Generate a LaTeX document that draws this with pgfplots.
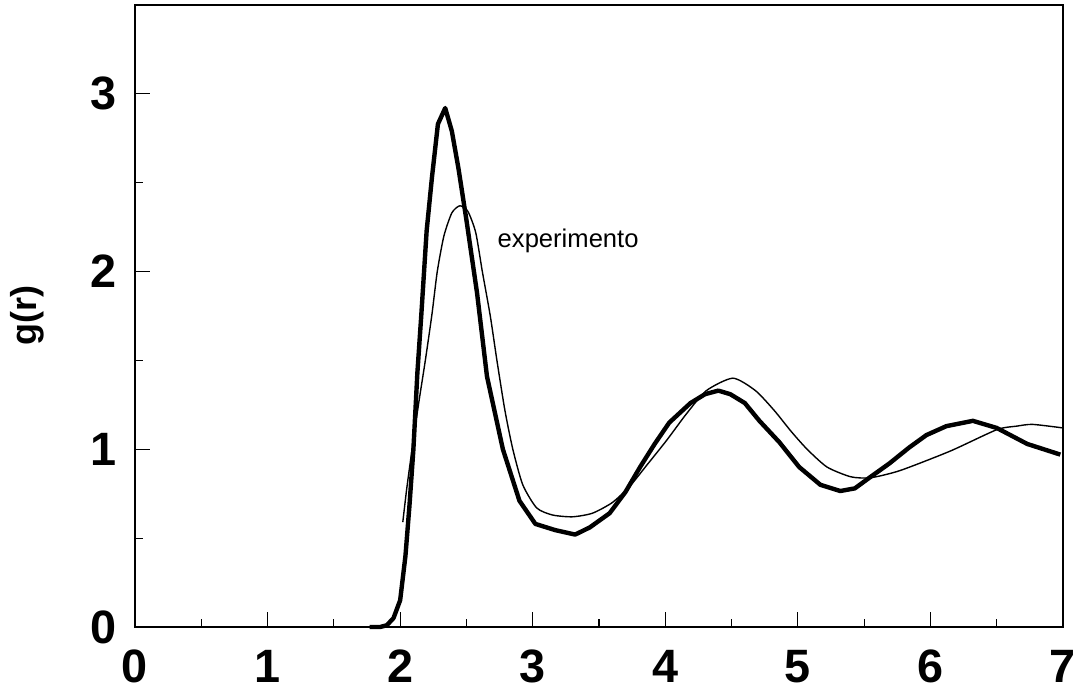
\documentclass[border=0pt]{standalone}
\usepackage{fontspec}
\setmainfont{Liberation Sans}
\usepackage{pgfplots}
\pgfplotsset{compat=1.18}
\usetikzlibrary{calc}

\pgfplotstableread{
r g
1.77 0.00
1.85 0.00
1.90 0.01
1.95 0.05
2.00 0.15
2.04 0.40
2.07 0.68
2.10 1.00
2.13 1.43
2.16 1.76
2.20 2.23
2.24 2.53
2.285 2.83
2.34 2.92
2.39 2.79
2.44 2.58
2.50 2.29
2.58 1.88
2.655 1.41
2.775 1.00
2.90 0.71
3.02 0.58
3.17 0.545
3.32 0.52
3.43 0.56
3.58 0.64
3.70 0.76
3.81 0.90
3.92 1.03
4.03 1.15
4.19 1.26
4.30 1.31
4.40 1.33
4.49 1.31
4.60 1.26
4.71 1.16
4.86 1.04
5.01 0.90
5.17 0.80
5.32 0.765
5.43 0.78
5.54 0.84
5.69 0.92
5.84 1.01
5.97 1.08
6.12 1.13
6.32 1.16
6.50 1.12
6.73 1.03
6.98 0.97
}\simdata

\pgfplotstableread{
r g
2.02 0.59
2.05 0.78
2.09 1.00
2.14 1.26
2.19 1.50
2.24 1.76
2.28 2.00
2.33 2.20
2.39 2.33
2.45 2.37
2.51 2.34
2.57 2.22
2.62 2.00
2.68 1.75
2.73 1.50
2.79 1.22
2.85 1.00
2.925 0.80
3.03 0.67
3.15 0.63
3.30 0.62
3.45 0.64
3.60 0.70
3.73 0.79
3.86 0.91
4.01 1.05
4.16 1.20
4.31 1.33
4.51 1.40
4.68 1.33
4.82 1.22
4.95 1.10
5.07 1.00
5.22 0.90
5.40 0.845
5.55 0.84
5.77 0.88
6.15 0.99
6.50 1.11
6.65 1.13
6.77 1.14
7.00 1.12
}\expdata

\begin{document}
\begin{tikzpicture}
\begin{axis}[
    scale only axis,
    width=232pt, height=155.5pt,
    xmin=0, xmax=7, ymin=0, ymax=3.5,
    xtick={0,1,...,7},
    ytick={0,1,2,3},
    minor x tick num=1,
    minor y tick num=1,
    tick align=inside,
    xtick pos=bottom, ytick pos=left,
    major tick length=3.75pt,
    minor tick length=2pt,
    every tick/.style={black, line width=0.3pt},
    axis line style={line width=0.6pt},
    tick label style={font=\fontsize{11.7}{14}\selectfont\bfseries},
    xticklabel style={text height=0.72em, text depth=0pt, inner sep=0pt},
    xticklabel shift=6.5pt,
    yticklabel style={inner sep=0pt},
    yticklabel shift=4.5pt,
    /pgf/number format/assume math mode=true,
    ylabel={g(r)},
    ylabel style={at={(axis description cs:-0.1164,0.5)}, anchor=center,
        font=\fontsize{9}{11}\selectfont\bfseries},
    clip=false,
]
\addplot[black, line width=1.1pt, line join=round] table[x=r, y=g] {\simdata};
\addplot[black, line width=0.35pt, smooth, tension=0.4] table[x=r, y=g] {\expdata};
\node[anchor=west, font=\fontsize{6.4}{8}\selectfont, inner sep=0pt] at (axis cs:2.73,2.17) {experimento};
\coordinate (bl) at (rel axis cs:0,0);
\coordinate (tr) at (rel axis cs:1,1);
\end{axis}
\pgfresetboundingbox
\path[use as bounding box] ($(bl)+(-33.75pt,-15.5pt)$) rectangle ($(tr)+(3.75pt,1.25pt)$);
\end{tikzpicture}
\end{document}
